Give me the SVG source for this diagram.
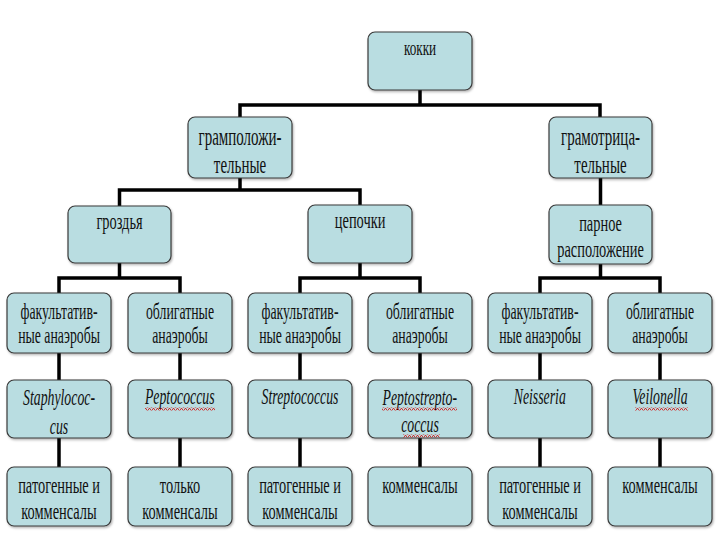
<svg xmlns="http://www.w3.org/2000/svg" width="720" height="540" viewBox="0 0 720 540">
<style>
.bg{fill:#ffffff}
.box{fill:#B9DDE1;stroke:#3a3a3a;stroke-width:1.2;filter:url(#sh)}
.con{fill:none;stroke:#000;stroke-width:3.5;stroke-linecap:square;stroke-linejoin:miter}
.t{font-family:"Liberation Serif","Times New Roman",serif;fill:#111;text-anchor:middle;transform-box:fill-box;transform-origin:50% 50%;transform:scaleX(0.6)}
.s22{font-size:22px}
.s25{font-size:25px}
.s24{font-size:24px}
.s23{font-size:23px}
.it{font-style:italic}
.wv{fill:url(#wave)}
</style>
<defs>
<filter id="sh" x="-10%" y="-10%" width="125%" height="130%">
<feDropShadow dx="1" dy="1.5" stdDeviation="1" flood-color="#000" flood-opacity="0.3"/>
</filter>
<pattern id="wave" width="4" height="3" patternUnits="userSpaceOnUse">
<path d="M0 2.5 L1 0.5 L2 0.5 L3 2.5 L4 2.5" fill="none" stroke="#d02020" stroke-width="0.9"/>
</pattern>
</defs>
<rect class="bg" x="0" y="0" width="720" height="540"/>
<g id="connectors">
<path class="con" d="M420 90 V105 M240 105 H600 M240 105 V117 M600 105 V117"/>
<path class="con" d="M240 178 V190 M119.5 190 H360 M119.5 190 V206 M360 190 V205 M600.5 178 V205"/>
<path class="con" d="M119.5 263 V278 M59 278 H180 M59 278 V293 M180 278 V293"/>
<path class="con" d="M360 263 V278 M300 278 H420 M300 278 V293 M420 278 V293"/>
<path class="con" d="M600.5 264 V278 M540 278 H660 M540 278 V293 M660 278 V293"/>
<path class="con" d="M59 353 V380 M59 438 V467 M180 353 V380 M180 438 V467 M300 353 V380 M300 438 V467 M420 353 V380 M420 438 V467 M540 353 V380 M540 438 V467 M660 353 V380 M660 438 V467"/>
</g>
<g id="n-kokki"><rect class="box" x="368" y="32" width="104" height="58" rx="7"/><text class="t s22" x="420" y="55">кокки</text></g>
<g id="n-grampos"><rect class="box" x="188" y="117" width="104" height="61" rx="7"/><text class="t s25" x="240" y="145">грамположи-</text><text class="t s25" x="240" y="173">тельные</text></g>
<g id="n-gramneg"><rect class="box" x="549" y="117" width="103" height="61" rx="7"/><text class="t s25" x="600.5" y="145">грамотрица-</text><text class="t s25" x="600.5" y="173">тельные</text></g>
<g id="n-grozdya"><rect class="box" x="68" y="206" width="103" height="57" rx="7"/><text class="t s24" x="119.5" y="229">гроздья</text></g>
<g id="n-cepochki"><rect class="box" x="308" y="205" width="104" height="58" rx="7"/><text class="t s24" x="360" y="228">цепочки</text></g>
<g id="n-parnoe"><rect class="box" x="549" y="205" width="103" height="59" rx="7"/><text class="t s24" x="600.5" y="231">парное</text><text class="t s24" x="600.5" y="257">расположение</text></g>
<g id="n-fak1"><rect class="box" x="7" y="293" width="104" height="60" rx="7"/><text class="t s23" x="59" y="319">факультатив-</text><text class="t s23" x="59" y="343">ные анаэробы</text></g>
<g id="n-obl1"><rect class="box" x="128" y="293" width="104" height="60" rx="7"/><text class="t s23" x="180" y="319">облигатные</text><text class="t s23" x="180" y="343">анаэробы</text></g>
<g id="n-fak2"><rect class="box" x="248" y="293" width="104" height="60" rx="7"/><text class="t s23" x="300" y="319">факультатив-</text><text class="t s23" x="300" y="343">ные анаэробы</text></g>
<g id="n-obl2"><rect class="box" x="368" y="293" width="104" height="60" rx="7"/><text class="t s23" x="420" y="319">облигатные</text><text class="t s23" x="420" y="343">анаэробы</text></g>
<g id="n-fak3"><rect class="box" x="488" y="293" width="104" height="60" rx="7"/><text class="t s23" x="540" y="319">факультатив-</text><text class="t s23" x="540" y="343">ные анаэробы</text></g>
<g id="n-obl3"><rect class="box" x="608" y="293" width="104" height="60" rx="7"/><text class="t s23" x="660" y="319">облигатные</text><text class="t s23" x="660" y="343">анаэробы</text></g>
<g id="n-staph"><rect class="box" x="7" y="380" width="104" height="58" rx="7"/><text class="t s23 it" x="59" y="405">Staphylococ-</text><text class="t s23 it" x="59" y="434">cus</text></g>
<g id="n-pepto"><rect class="box" x="128" y="380" width="104" height="58" rx="7"/><text class="t s23 it" x="180" y="404">Peptococcus</text><rect class="wv" x="145" y="407.5" width="70" height="3"/></g>
<g id="n-strep"><rect class="box" x="248" y="380" width="104" height="58" rx="7"/><text class="t s23 it" x="300" y="404">Streptococcus</text></g>
<g id="n-peptostrep"><rect class="box" x="368" y="380" width="104" height="58" rx="7"/><text class="t s23 it" x="420" y="405">Peptostrepto-</text><text class="t s23 it" x="420" y="432">coccus</text><rect class="wv" x="382" y="407.5" width="75" height="3"/><rect class="wv" x="403" y="434.5" width="37" height="3"/></g>
<g id="n-neis"><rect class="box" x="488" y="380" width="104" height="58" rx="7"/><text class="t s23 it" x="540" y="404">Neisseria</text></g>
<g id="n-veil"><rect class="box" x="608" y="380" width="104" height="58" rx="7"/><text class="t s23 it" x="660" y="404">Veilonella</text><rect class="wv" x="635" y="407.5" width="53" height="3"/></g>
<g id="n-pk1"><rect class="box" x="7" y="467" width="104" height="59" rx="7"/><text class="t s24" x="59" y="493">патогенные и</text><text class="t s24" x="59" y="519">комменсалы</text></g>
<g id="n-tk"><rect class="box" x="128" y="467" width="104" height="59" rx="7"/><text class="t s24" x="180" y="493">только</text><text class="t s24" x="180" y="519">комменсалы</text></g>
<g id="n-pk2"><rect class="box" x="248" y="467" width="104" height="59" rx="7"/><text class="t s24" x="300" y="493">патогенные и</text><text class="t s24" x="300" y="519">комменсалы</text></g>
<g id="n-k1"><rect class="box" x="368" y="467" width="104" height="59" rx="7"/><text class="t s24" x="420" y="493">комменсалы</text></g>
<g id="n-pk3"><rect class="box" x="488" y="467" width="104" height="59" rx="7"/><text class="t s24" x="540" y="493">патогенные и</text><text class="t s24" x="540" y="519">комменсалы</text></g>
<g id="n-k2"><rect class="box" x="608" y="467" width="104" height="59" rx="7"/><text class="t s24" x="660" y="493">комменсалы</text></g>
</svg>
